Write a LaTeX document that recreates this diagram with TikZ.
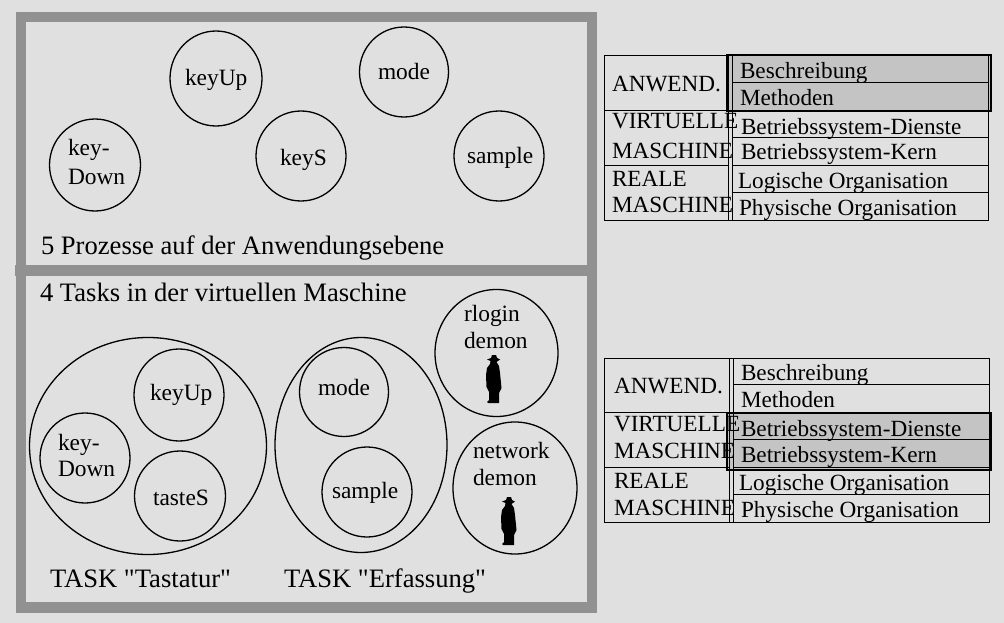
\documentclass[tikz,border=0pt]{standalone}
\usepackage{fontspec}
\setmainfont{Liberation Serif}
\font\rawq="Liberation Serif" at 26.6pt
\usetikzlibrary{shapes.geometric}
\definecolor{bgc}{HTML}{E0E0E0}
\definecolor{band}{HTML}{919191}
\definecolor{hl}{HTML}{C4C4C4}
\tikzset{
  bub/.style={ellipse,draw=black,line width=1.3pt,inner sep=0pt},
  big/.style={font=\fontsize{26.6}{26.6}\selectfont,anchor=base west,inner sep=0pt,outer sep=0pt},
  lab/.style={font=\fontsize{23.4}{23.4}\selectfont,anchor=base west,inner sep=0pt,outer sep=0pt},
  tab/.style={font=\fontsize{23.2}{23.2}\selectfont,anchor=base west,inner sep=0pt,outer sep=0pt},
  rule/.style={draw=black,line width=0.8pt},
  hibox/.style={draw=black,line width=2.2pt},
  hiboxb/.style={draw=black,line width=1.7pt},
  person/.pic={
    \fill[black] (-2,-24) -- (-3,-21) -- (-7,-19.5) -- (-3.5,-18) -- (-4,-15) -- (-7,-11) -- (-8,-4) -- (-7.5,8) -- (-5,13) -- (-5,21) -- (-7,23) -- (-6,24) -- (5,24) -- (5,21) -- (5,14) -- (7.5,9) -- (6,-6) -- (5,-13) -- (2.5,-17) -- (6,-19.5) -- (3,-21) -- (2,-24) -- cycle;
  }
}
\newcommand{\bubble}[5]{\node[bub,minimum width=#4pt,minimum height=#5pt] (#1) at (#2,#3) {};}
\newcommand{\sq}{{\rawq\char34 }}
\begin{document}
\begin{tikzpicture}[x=1pt,y=-1pt]
\useasboundingbox (0,0) rectangle (1004,623);
\fill[bgc] (0,0) rectangle (1004,623);
% frame
\fill[band] (16,12) rectangle (597,613);
\fill[bgc] (26,22) rectangle (587,265);
\fill[bgc] (26,276) rectangle (587,602);
\fill[band] (15,265) rectangle (26,276);
% upper panel
\bubble{uKeyUp}{216}{78.5}{92}{95}
\bubble{uMode}{404}{72}{89}{90}
\bubble{uKeyS}{301}{156}{90}{90}
\bubble{uKeyDown}{95}{165}{91}{92}
\bubble{uSample}{499}{156}{90}{90}
\node[lab] (tKeyUpA) at (185,86) {keyUp};
\node[lab] (tModeA) at (378,80) {mode};
\node[lab] (tKeyS) at (280,165) {keyS};
\node[lab] (tKeyA) at (68,156) {key-};
\node[lab] (tDownA) at (68,185) {Down};
\node[lab] (tSampleA) at (467,164) {sample};
\node[big] (tProz) at (41,254) {5 Prozesse auf der Anwendungsebene};
% lower panel
\node[big] (tTasks) at (40,301) {4 Tasks in der virtuellen Maschine};
\bubble{taskT}{148}{446}{237}{217}
\bubble{taskE}{361}{445}{172}{215}
\bubble{lKeyUp}{179}{395}{90}{92}
\bubble{lKeyDown}{85}{458}{90}{90}
\bubble{lTasteS}{180}{496}{91}{90}
\bubble{lMode}{344}{392}{89}{89}
\bubble{lSample}{367}{492}{90}{90}
\bubble{rlogin}{496.5}{353}{123}{127}
\bubble{network}{515}{488}{124}{132}
\node[lab] (tKeyUpB) at (150,400) {keyUp};
\node[lab] (tKeyB) at (58,450) {key-};
\node[lab] (tDownB) at (58,476) {Down};
\node[lab] (tTasteS) at (153,505) {tasteS};
\node[lab] (tModeB) at (318,395) {mode};
\node[lab] (tSampleB) at (332,498) {sample};
\node[lab] (tRlogin) at (464,321) {rlogin};
\node[lab] (tDemA) at (464,348) {demon};
\node[lab] (tNet) at (473,458) {network};
\node[lab] (tDemB) at (473,485) {demon};
\pic at (494,379) {person};
\pic at (509,521) {person};
\node[big] (tT) at (50,587.5) {TASK \sq Tastatur\sq};
\node[big] (tE) at (284,587.5) {TASK \sq Erfassung\sq};
% upper table
\fill[hl] (727,55) rectangle (991,110);
\draw[rule] (604,55) rectangle (988,220);
\draw[rule] (728,55) -- (728,220) (732,55) -- (732,220);
\draw[rule] (604,110) -- (728,110) (604,165) -- (728,165);
\draw[rule] (732,82) -- (988,82) (732,137) -- (988,137) (732,165) -- (988,165) (732,192) -- (988,192);
\draw[hibox] (727,55) rectangle (991,111);
\node[tab] (a1) at (612,92) {ANWEND.};
\node[tab] (a2) at (612,129) {VIRTUELLE};
\node[tab] (a3) at (612,158) {MASCHINE};
\node[tab] (a4) at (612,186) {REALE};
\node[tab] (a5) at (612,212) {MASCHINE};
\node[tab] (a6) at (740,79) {Beschreibung};
\node[tab] (a7) at (740,106) {Methoden};
\node[tab] (a8) at (741,135) {Betriebssystem-Dienste};
\node[tab] (a9) at (741,160) {Betriebssystem-Kern};
\node[tab] (a10) at (738,189) {Logische Organisation};
\node[tab] (a11) at (739,215) {Physische Organisation};
% lower table
\fill[hl] (727,413) rectangle (991,470);
\draw[rule] (604,358) rectangle (989,522);
\draw[rule] (729,358) -- (729,522) (733,358) -- (733,522);
\draw[rule] (604,412) -- (729,412) (604,467) -- (729,467);
\draw[rule] (733,384) -- (989,384) (733,439) -- (989,439) (733,467) -- (989,467) (733,494) -- (989,494);
\draw[hiboxb] (727,413) rectangle (991,470);
\node[tab] (b1) at (614,393) {ANWEND.};
\node[tab] (b2) at (614,431) {VIRTUELLE};
\node[tab] (b3) at (614,458) {MASCHINE};
\node[tab] (b4) at (614,488) {REALE};
\node[tab] (b5) at (614,515) {MASCHINE};
\node[tab] (b6) at (741,380) {Beschreibung};
\node[tab] (b7) at (741,407) {Methoden};
\node[tab] (b8) at (741,436) {Betriebssystem-Dienste};
\node[tab] (b9) at (741,462) {Betriebssystem-Kern};
\node[tab] (b10) at (739,490) {Logische Organisation};
\node[tab] (b11) at (741,517) {Physische Organisation};
\end{tikzpicture}
\end{document}
